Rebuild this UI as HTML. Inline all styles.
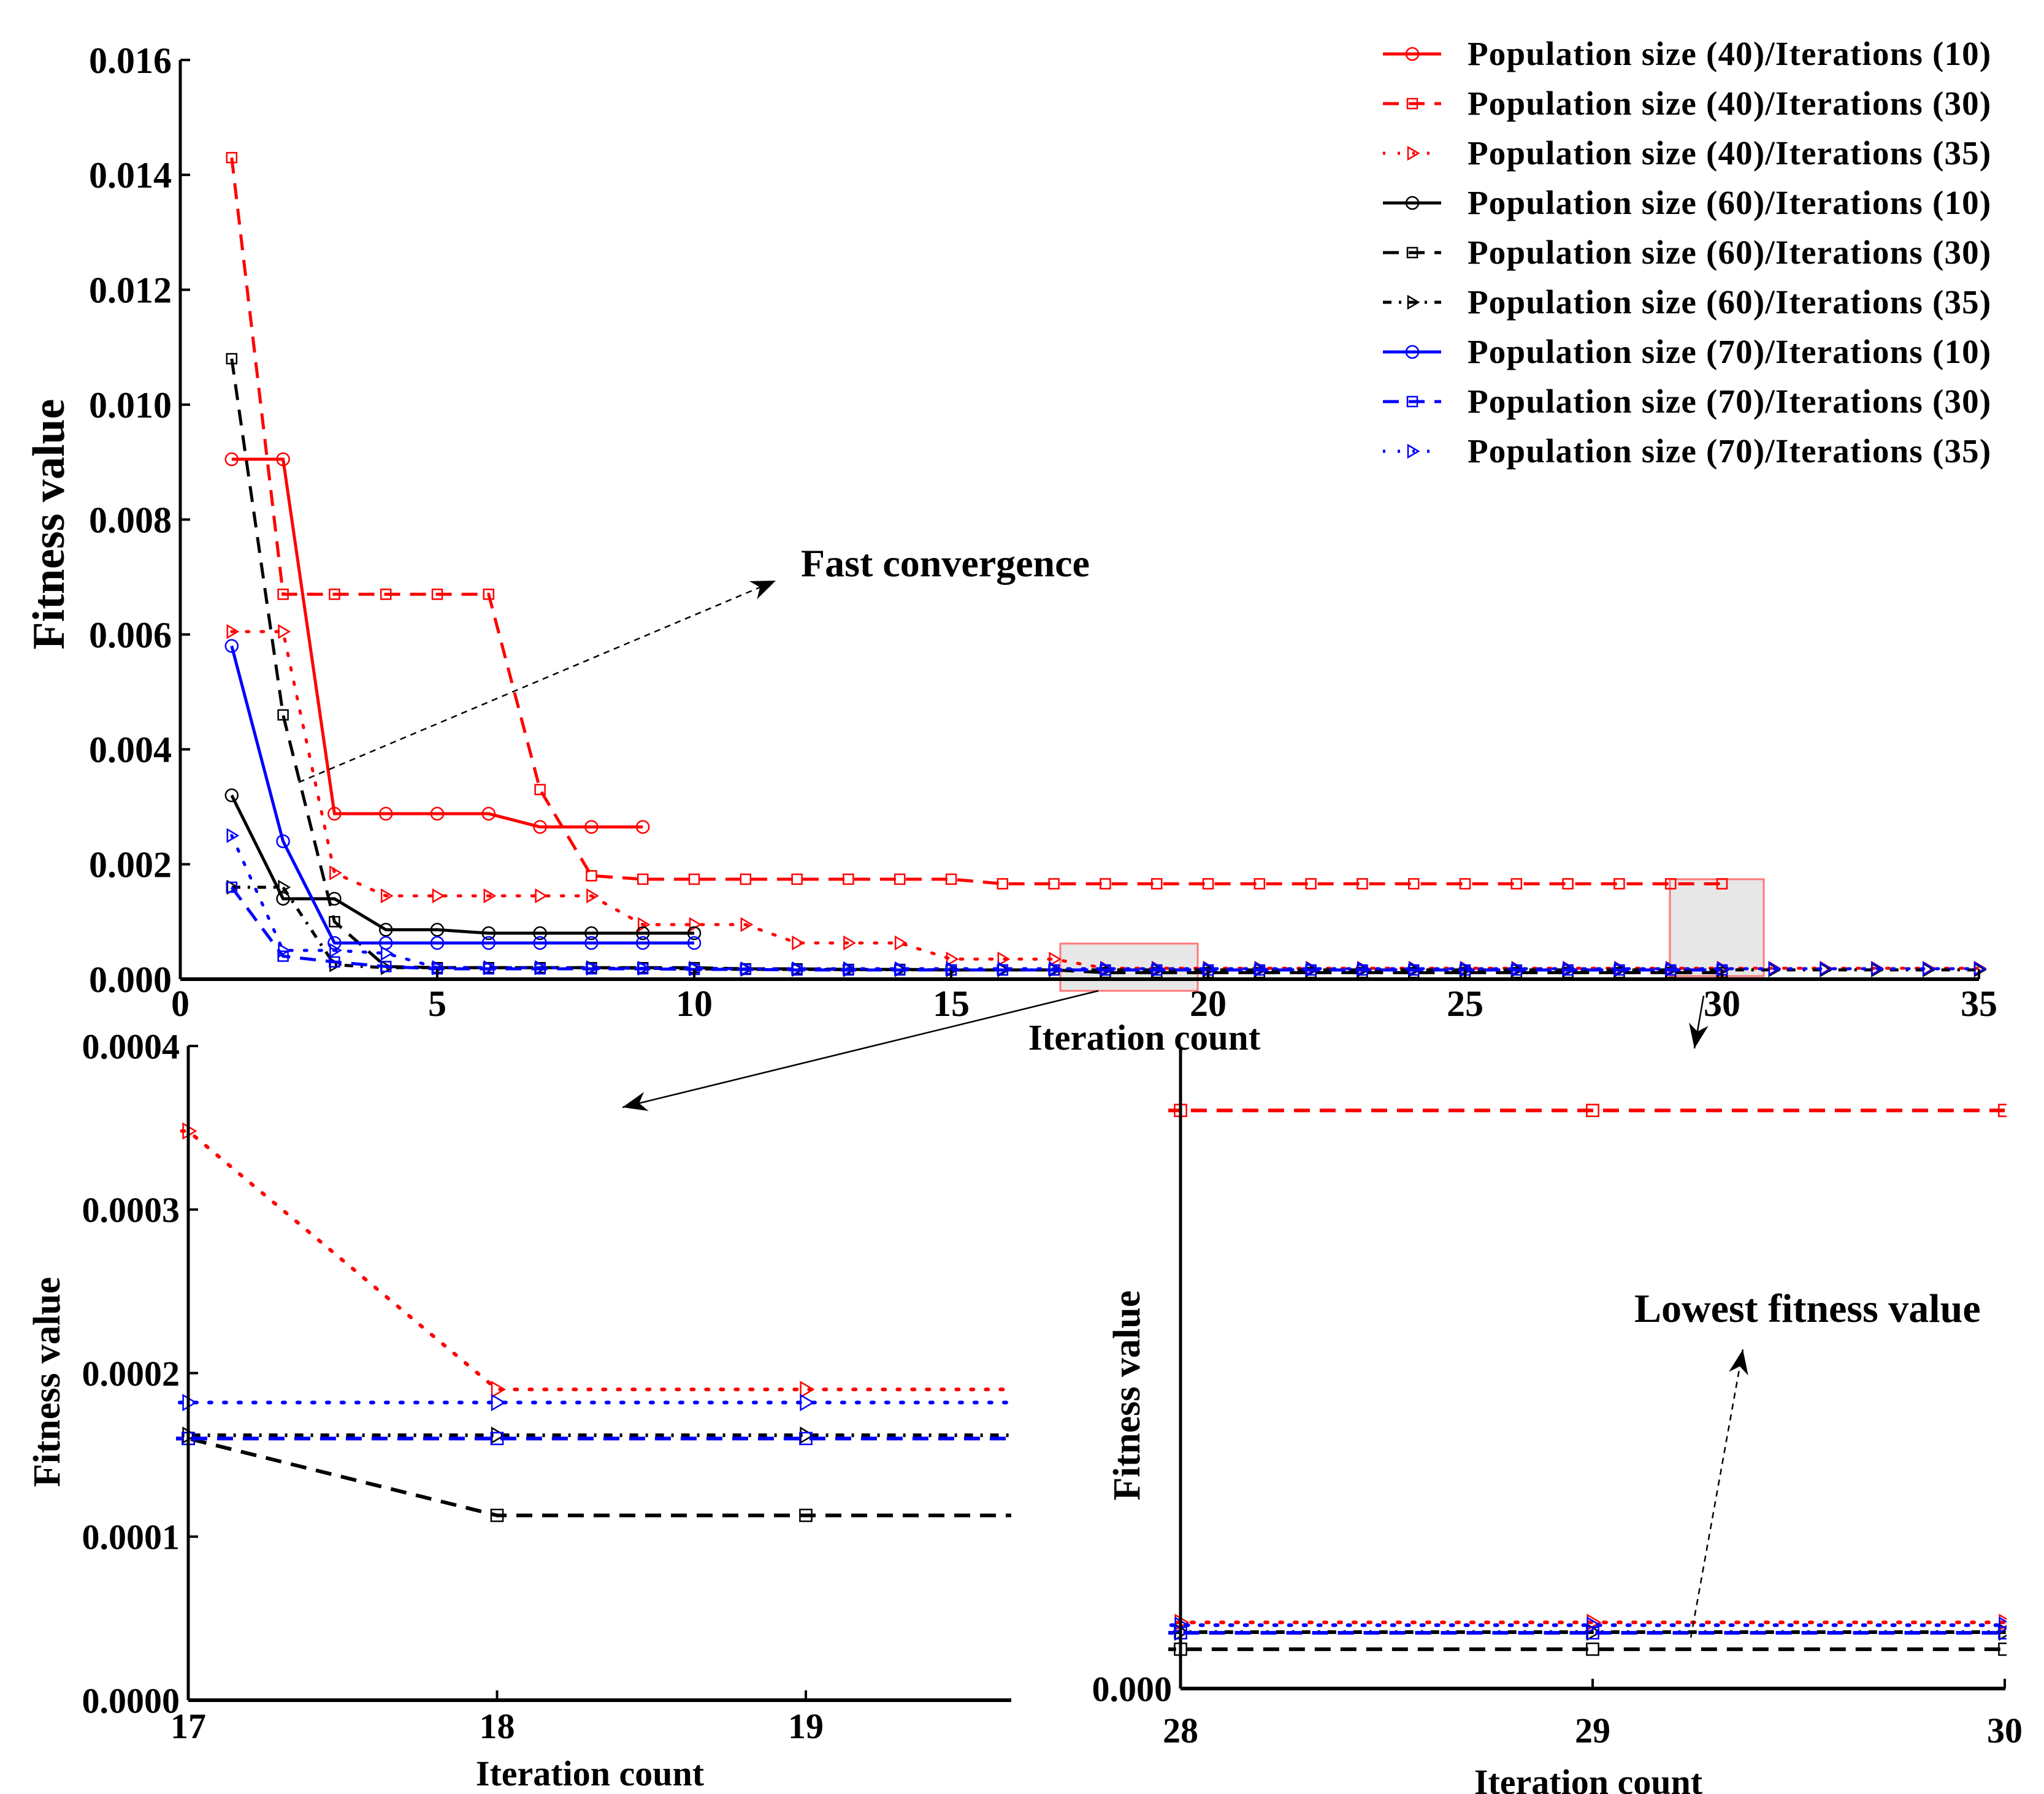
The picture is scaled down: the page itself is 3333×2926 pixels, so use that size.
<!DOCTYPE html>
<html><head><meta charset="utf-8"><style>
html,body{margin:0;padding:0;background:#fff}
svg{display:block}
text{font-family:"Liberation Serif",serif}
</style></head><body>
<svg id="chart" width="3333" height="2926" viewBox="0 0 3333 2926" xmlns="http://www.w3.org/2000/svg"></svg>
<script>
const iters = Array.from({length:35},(_,i)=>i+1);
const s40_10 = [0.00905,0.00905,0.00288,0.00288,0.00288,0.00288,0.00265,0.00265,0.00265];
const s40_30 = [0.0143,0.0067,0.0067,0.0067,0.0067,0.0067,0.0033,0.0018,0.00174,0.00174,0.00174,0.00174,0.00174,0.00174,0.00174,0.00166,0.00166,0.00166,0.00166,0.00166,0.00166,0.00166,0.00166,0.00166,0.00166,0.00166,0.00166,0.00166,0.00166,0.00166];
const s40_35 = [0.00605,0.00605,0.00185,0.00145,0.00145,0.00145,0.00145,0.00145,0.00095,0.00095,0.00095,0.00063,0.00063,0.00063,0.00035,0.00035,0.000348,0.00019,0.00019,0.00019,0.00019,0.00019,0.00019,0.00019,0.00019,0.00019,0.00019,0.00019,0.00019,0.00019,0.00019,0.00019,0.00019,0.00019,0.00019];
const s60_10 = [0.0032,0.0014,0.0014,0.00086,0.00086,0.0008,0.0008,0.0008,0.0008,0.0008];
const s60_30 = [0.0108,0.0046,0.001,0.00022,0.0002,0.0002,0.0002,0.0002,0.0002,0.0002,0.00018,0.00018,0.00017,0.00017,0.00016,0.00016,0.00016,0.000113,0.000113,0.000113,0.000113,0.000113,0.000113,0.000113,0.000113,0.000113,0.000113,0.000113,0.000113,0.000113];
const s60_35 = [0.0016,0.0016,0.00025,0.0002,0.0002,0.0002,0.0002,0.0002,0.00019,0.00018,0.00017,0.00017,0.000165,0.000165,0.000162,0.000162,0.000162,0.000162,0.000162,0.000162,0.000162,0.000162,0.000162,0.000162,0.000162,0.000162,0.000162,0.000162,0.000162,0.000162,0.000162,0.000162,0.000162,0.000162,0.000162];
const s70_10 = [0.0058,0.0024,0.00063,0.00063,0.00063,0.00063,0.00063,0.00063,0.00063,0.00063];
const s70_30 = [0.0016,0.0004,0.0003,0.00022,0.00018,0.00018,0.00018,0.00018,0.00018,0.00017,0.00017,0.00016,0.00016,0.00016,0.00016,0.00016,0.00016,0.00016,0.00016,0.00016,0.00016,0.00016,0.00016,0.00016,0.00016,0.00016,0.00016,0.00016,0.00016,0.00016];
const s70_35 = [0.0025,0.0005,0.0005,0.00045,0.0002,0.0002,0.0002,0.00019,0.00019,0.00019,0.00018,0.00018,0.000182,0.000182,0.000182,0.000182,0.000182,0.000182,0.000182,0.000182,0.000182,0.000182,0.000182,0.000182,0.000182,0.000182,0.000182,0.000182,0.000182,0.000182,0.000182,0.000182,0.000182,0.000182,0.000182];
const legendLabels = ["Population size (40)/Iterations (10)","Population size (40)/Iterations (30)","Population size (40)/Iterations (35)","Population size (60)/Iterations (10)","Population size (60)/Iterations (30)","Population size (60)/Iterations (35)","Population size (70)/Iterations (10)","Population size (70)/Iterations (30)","Population size (70)/Iterations (35)"];
const mainXTicks = [0,5,10,15,20,25,30,35];
const mainYTicks = [0,0.002,0.004,0.006,0.008,0.010,0.012,0.014,0.016];
const leftXTicks = [17,18,19];
const leftYTicks = [0,0.0001,0.0002,0.0003,0.0004];
const rightXTicks = [28,29,30];

const series = [
 {d:s40_10,c:"#f00",dash:"",m:"circle",n:"series-pop40-it10"},
 {d:s40_30,c:"#f00",dash:"26 16",m:"square",n:"series-pop40-it30"},
 {d:s40_35,c:"#f00",dash:"4 20",m:"tri",n:"series-pop40-it35"},
 {d:s60_10,c:"#000",dash:"",m:"circle",n:"series-pop60-it10"},
 {d:s60_30,c:"#000",dash:"26 16",m:"square",n:"series-pop60-it30"},
 {d:s60_35,c:"#000",dash:"14 12 4 12",m:"tri",n:"series-pop60-it35"},
 {d:s70_10,c:"#00f",dash:"",m:"circle",n:"series-pop70-it10"},
 {d:s70_30,c:"#00f",dash:"26 16",m:"square",n:"series-pop70-it30"},
 {d:s70_35,c:"#00f",dash:"4 20",m:"tri",n:"series-pop70-it35"}
];
const NS="http://www.w3.org/2000/svg";
const svg=document.getElementById('chart');
function el(tag,attrs,parent,txt){const e=document.createElementNS(NS,tag);for(const k in attrs)e.setAttribute(k,attrs[k]);if(txt!==undefined)e.textContent=txt;(parent||svg).appendChild(e);return e;}
function marker(g,type,x,y,c,r){
  let e;
  if(type==="circle") e=el('circle',{cx:x,cy:y,r:r,fill:'none',stroke:c,'stroke-width':2.5},g);
  else if(type==="square") e=el('rect',{x:x-r*0.8,y:y-r*0.8,width:r*1.6,height:r*1.6,fill:'none',stroke:c,'stroke-width':2.5},g);
  else e=el('polygon',{points:`${x-r*0.7},${y-r} ${x+r},${y} ${x-r*0.7},${y+r}`,fill:'none',stroke:c,'stroke-width':2.5},g);
  
  
}
function drawPanel(p){
  const g=el('g',{},svg);
  
  
  const cid='clip-'+p.name;
  const cp=el('clipPath',{id:cid},g);
  el('rect',{x:p.x0-20,y:p.top-20,width:p.xe-p.x0+20+p.padR,height:p.y0-p.top+40},cp);
  const X=v=>p.x0+(v-p.xmin)*p.ux, Y=v=>p.y0-v*p.uy;
  const pg=el('g',{'clip-path':`url(#${cid})`},g);
  series.forEach(s=>{
    const sg=el('g',{},pg);
    
    
    const pts=s.d.map((v,i)=>`${X(iters[i])},${Y(v)}`).join(' ');
    const pl=el('polyline',{points:pts,fill:'none',stroke:s.c,'stroke-width':p.lw,'stroke-dasharray':s.dash,'stroke-linecap':s.dash.startsWith('4')?'round':'butt'},sg);
    
    
    s.d.forEach((v,i)=>{if(iters[i]>=p.xmin-0.01&&iters[i]<=p.xmax+0.01)marker(sg,s.m,X(iters[i]),Y(v),s.c,p.mr);});
  });
  const ya=el('line',{x1:p.x0,y1:p.top,x2:p.x0,y2:p.y0,stroke:'#000','stroke-width':5},g);
  
  const xa=el('line',{x1:p.x0,y1:p.y0,x2:p.xe,y2:p.y0,stroke:'#000','stroke-width':6},g);
  
  p.xt.forEach(t=>{
    el('line',{x1:X(t),y1:p.y0,x2:X(t),y2:p.y0-16,stroke:'#000','stroke-width':4},g);
    const tx=el('text',{x:X(t),y:p.y0+p.xtOff,'font-size':p.fs,'font-weight':'bold','text-anchor':'middle'},g,String(t));
    
  });
  p.yt.forEach(t=>{
    el('line',{x1:p.x0,y1:Y(t),x2:p.x0+16,y2:Y(t),stroke:'#000','stroke-width':4},g);
    const tx=el('text',{x:p.x0-14,y:Y(t)+p.fs*0.35,'font-size':p.fs,'font-weight':'bold','text-anchor':'end'},g,t.toFixed(p.dec));
    
  });
  const xt=el('text',{x:p.xtx,y:p.xty,'font-size':p.tfs,'font-weight':'bold','text-anchor':'middle'},g,'Iteration count');
  
  const yt=el('text',{x:0,y:0,transform:`translate(${p.ytx},${p.yty}) rotate(-90)`,'font-size':p.yfs,'font-weight':'bold','text-anchor':'middle'},g,'Fitness value');
  
}
const b1=el('rect',{x:1729,y:1539,width:224,height:77,fill:'#ddd','fill-opacity':0.7,stroke:'#f77','stroke-width':3});

const b2=el('rect',{x:2723,y:1434,width:153,height:158,fill:'#ddd','fill-opacity':0.7,stroke:'#f77','stroke-width':3});


drawPanel({name:'main-plot',x0:294,xe:3227,xmin:0,xmax:35,ux:83.8,y0:1597,top:98,uy:93700,padR:20,yt:mainYTicks,xt:mainXTicks,dec:3,fs:60,lw:5,mr:10,xtOff:60,xtx:1866,xty:1712,tfs:59,ytx:104,yty:855,yfs:74});
drawPanel({name:'inset-17-19',x0:307,xe:1649,xmin:17,xmax:19.7,ux:503.5,y0:2773,top:1706,uy:2667500,padR:0,yt:leftYTicks,xt:leftXTicks,dec:4,fs:58,lw:6,mr:12,xtOff:62,xtx:962,xty:2912,tfs:58,ytx:97,yty:2254,yfs:62});
drawPanel({name:'inset-28-30',x0:1925,xe:3270,xmin:28,xmax:30,ux:672,y0:2754,top:1708,uy:568000,padR:2,yt:[0],xt:rightXTicks,dec:3,fs:58,lw:6,mr:12,xtOff:88,xtx:2590,xty:2926,tfs:58,ytx:1858,yty:2276,yfs:62});

series.forEach((s,i)=>{
  const y=88+i*81;
  const lg=el('g',{});
  
  
  el('line',{x1:2255,y1:y,x2:2350,y2:y,stroke:s.c,'stroke-width':5,'stroke-dasharray':s.dash},lg);
  marker(lg,s.m,2303,y,s.c,10);
  el('text',{x:2393,y:y+18,'font-size':55,'font-weight':'bold','letter-spacing':'1.2'},lg,legendLabels[i]);
});
function arrow(n,x1,y1,x2,y2,dash){
  const l=el('line',{x1,y1,x2,y2,stroke:'#000','stroke-width':2.5,'stroke-dasharray':dash});
  
  const a=Math.atan2(y2-y1,x2-x1),L=40,W=16;
  const p=`${x2},${y2} ${x2-L*Math.cos(a)+W*Math.sin(a)},${y2-L*Math.sin(a)-W*Math.cos(a)} ${x2-0.7*L*Math.cos(a)},${y2-0.7*L*Math.sin(a)} ${x2-L*Math.cos(a)-W*Math.sin(a)},${y2-L*Math.sin(a)+W*Math.cos(a)}`;
  const h=el('polygon',{points:p,fill:'#000'});
  
}
arrow('fast-convergence-arrow',487,1276,1265,947,'10 8');
arrow('zoom-arrow-left',1791,1616,1015,1806,'');
arrow('zoom-arrow-right',2778,1624,2763,1710,'');
arrow('lowest-fitness-arrow',2757,2671,2842,2201,'10 8');
const t1=el('text',{x:1306,y:940,'font-size':64,'font-weight':'bold'},svg,'Fast convergence');

const t2=el('text',{x:2665,y:2156,'font-size':66,'font-weight':'bold'},svg,'Lowest fitness value');

</script>
</body></html>
